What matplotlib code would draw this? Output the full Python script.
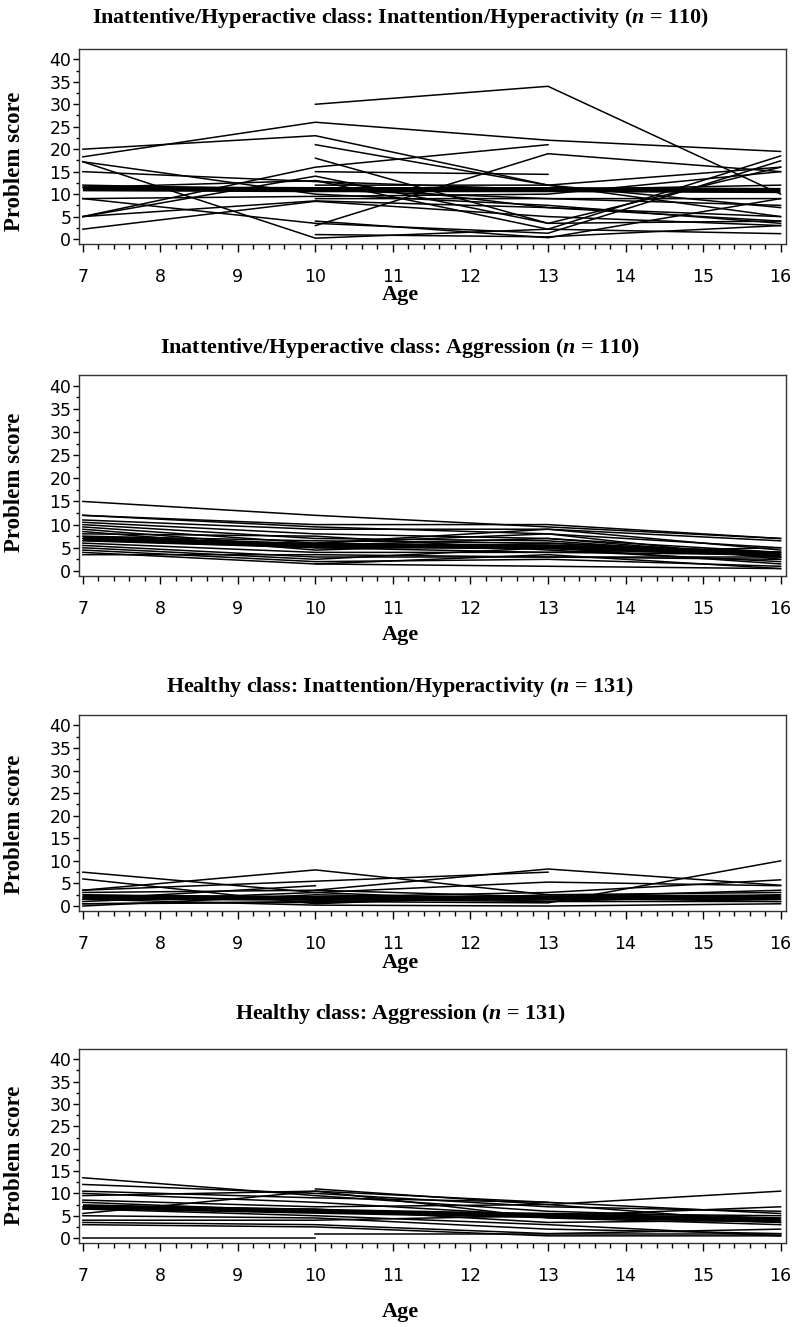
import numpy as np
import matplotlib

matplotlib.use("Agg")

import matplotlib.pyplot as plt
from matplotlib.ticker import MultipleLocator

nan = np.nan

AGES = [7, 10, 13, 16]
Y_TICKS = [0, 5, 10, 15, 20, 25, 30, 35, 40]
X_TICKS = [7, 8, 9, 10, 11, 12, 13, 14, 15, 16]

TITLES = [
    "Inattentive/Hyperactive class: Inattention/Hyperactivity ($\\mathbfit{n}$ = 110)",
    "Inattentive/Hyperactive class: Aggression ($\\mathbfit{n}$ = 110)",
    "Healthy class: Inattention/Hyperactivity ($\\mathbfit{n}$ = 131)",
    "Healthy class: Aggression ($\\mathbfit{n}$ = 131)",
]

# individual trajectories (score at ages 7, 10, 13, 16; nan = missing wave)
ih_inatt = [
    [nan, 30, 34, 10],
    [18.3, 26, 22, 19.5],
    [20, 23, 12, 5],
    [17.2, 0.2, 2.2, 18.5],
    [17.2, 10, 7.5, 3.5],
    [15, 12.8, 11, 12],
    [12, 11, 9, 9],
    [11.5, 13, 7, 4],
    [9, 3.5, 1.3, 17.4],
    [9, 9.5, 10, 15],
    [5, 14, 3.5, 16],
    [5, 8.5, 7, 5],
    [5, 16, 21, nan],
    [2.2, 8.4, 5, 3],
    [nan, 21, 12, 7],
    [nan, 18, 3.5, 4],
    [nan, 15, 14.4, nan],
    [nan, 13, 2.2, 1.2],
    [nan, 4, 0.3, 9],
    [nan, 1, 0.5, 3],
    [nan, 3, 19, 15],
    [nan, 12, 12, 16],
    [nan, 9, 9, 7.5],
]
ih_inatt_mean = [11.2, 11, 11, 10.8]

ih_aggr = [
    [15, 12, 9.5, 7],
    [12, 10, 10, 7],
    [12, 9.5, 8, 5],
    [11, 9, 9, 4.5],
    [10.5, 8, 7, 4],
    [10, 7, 6.5, 3],
    [9.5, 6, 8, 2.5],
    [9, 5, 5.5, 4],
    [8.5, 4.5, 6, 3.5],
    [8, 7.5, 4.5, 2],
    [7, 5.5, 7, 3],
    [6, 4, 4, 5],
    [5.5, 3, 3, 2.5],
    [5, 2.5, 5, 1.5],
    [4.5, 2, 2.5, 1],
    [4, 1.5, 3.5, 0.5],
    [3.5, 3.5, 3, 3],
    [nan, 1.5, 1, 0.5],
    [nan, 6, 9, 6.5],
    [7.5, 6.5, 6, 4],
    [6.5, 5, 4, 3.5],
]
ih_aggr_mean = [7, 5.5, 5.2, 3.6]

h_inatt = [
    [7.5, 3, 1, 1],
    [6, 0.5, 2.5, 3],
    [3.5, 8, 2.5, 2],
    [3.5, 5.5, 7.5, nan],
    [1.5, 4.5, nan, nan],
    [2, 2, 3, 5.8],
    [1, 3, 5.3, 4.5],
    [0.5, 1, 0.7, 10],
    [0, 2.5, 1.5, 1.5],
    [1.5, 0.2, 0, 0.5],
    [nan, 3.5, 2, 3.5],
    [3, 3.5, 8.2, 4.6],
    [2.5, 1.5, 1, 2.5],
    [0.5, 0.8, 1.8, 1],
]
h_inatt_mean = [2, 1.7, 1.8, 2]

h_aggr = [
    [13.5, 9.5, 6, 4.5],
    [12, 10, 7, 6],
    [10.5, 9, 8, 5.5],
    [10, 8, 5, 3.5],
    [9.5, 10.5, 4.5, 3],
    [8.5, 7, 7.5, 3.5],
    [7, 6.5, 3.5, 4],
    [6.5, 5, 3, 0.5],
    [5.5, 10.5, 8, nan],
    [5, 4.5, 2, 1],
    [4, 4, 5, 7],
    [3.5, 3, 1, 2],
    [3, 2.5, 0.5, 0.5],
    [0, 0, nan, nan],
    [nan, 11, 7.5, 10.5],
    [nan, 1, 1, 1],
    [8, 6, 5.5, 5],
]
h_aggr_mean = [7, 6, 5, 4]

PANELS = [
    (ih_inatt, ih_inatt_mean),
    (ih_aggr, ih_aggr_mean),
    (h_inatt, h_inatt_mean),
    (h_aggr, h_aggr_mean),
]

W, H = 800, 1327
# pixel layout: box top, box bottom, title baseline, "Age" baseline, ylabel centre
BOXES = [(49, 244), (375, 576), (715, 911), (1049, 1243)]
TITLE_Y = [23, 353, 692, 1019]
AGE_Y = [300, 640, 968, 1317]
YLAB_Y = [161, 482, 824, 1155]

SERIF = ["Liberation Serif", "DejaVu Serif"]

plt.rcParams["font.family"] = "DejaVu Sans"
plt.rcParams["mathtext.fontset"] = "custom"
plt.rcParams["mathtext.bfit"] = "Liberation Serif:bold:italic"
plt.rcParams["mathtext.rm"] = "Liberation Serif"

fig = plt.figure(figsize=(W / 100, H / 100), dpi=100)

for i, (trajs, mean) in enumerate(PANELS):
    top, bot = BOXES[i]
    ax = fig.add_axes([79 / W, 1 - bot / H, 707 / W, (bot - top) / H])
    for t in trajs:
        ax.plot(AGES, t, color="black", lw=1.1, solid_joinstyle="miter")
    ax.plot(AGES, mean, color="black", lw=3.8, solid_capstyle="butt")

    ax.set_xlim(6.95, 16.07)
    ax.set_ylim(-1.1, 42.3)
    ax.set_xticks(X_TICKS)
    ax.set_yticks(Y_TICKS)
    ax.xaxis.set_minor_locator(MultipleLocator(0.2))
    ax.yaxis.set_minor_locator(MultipleLocator(2.5))
    ax.tick_params(axis="x", which="major", direction="out", length=6, width=1, pad=11, labelsize=12.5)
    ax.tick_params(axis="x", which="minor", direction="out", length=3.5, width=1)
    ax.tick_params(axis="y", which="major", direction="out", length=4, width=1, pad=1.5, labelsize=12.5)
    ax.tick_params(axis="y", which="minor", direction="out", length=2, width=1)
    for sp in ax.spines.values():
        sp.set_linewidth(1.0)
        sp.set_color("#333333")

    fig.text(0.5, 1 - TITLE_Y[i] / H, TITLES[i], ha="center", va="baseline",
             fontsize=15.8, fontweight="bold", family=SERIF)
    fig.text(0.5, 1 - AGE_Y[i] / H, "Age", ha="center", va="baseline",
             fontsize=16, fontweight="bold", family=SERIF)
    fig.text(15 / W, 1 - YLAB_Y[i] / H, "Problem score", ha="center", va="center",
             rotation=90, fontsize=16.5, fontweight="bold", family=SERIF)

fig.savefig("out.png", dpi=100, facecolor="white")
